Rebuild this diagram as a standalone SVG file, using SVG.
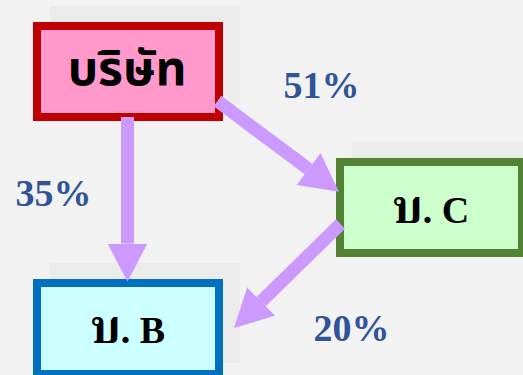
<svg xmlns="http://www.w3.org/2000/svg" width="523" height="375" viewBox="0 0 523 375">
  <style>
    .shadow { fill: #ebebeb; }
    .box { stroke-width: 8; }
    .conn { stroke: #cc99ff; stroke-width: 13; fill: none; marker-end: url(#head); }
    .pct { font-family: "Liberation Serif", "Times New Roman", serif; font-weight: bold; font-size: 38px; fill: #2f5597; text-anchor: middle; }
    .lbl { font-family: "Liberation Serif", "Noto Serif Thai", "Noto Sans Thai", "Tahoma", serif; font-weight: bold; font-size: 38px; fill: #000; text-anchor: middle; }
    .tb { font-size: 46px; }
    .thai { font-family: "Tahoma", "Noto Sans Thai", "Noto Sans Thai UI", "DejaVu Sans", sans-serif; font-weight: bold; font-size: 48px; fill: #000; text-anchor: middle; }
  </style>
  <defs>
    <marker id="head" markerUnits="userSpaceOnUse" markerWidth="38" markerHeight="40" viewBox="0 0 38 40" refX="0" refY="20" orient="auto">
      <path d="M0,0 L38,20 L0,40 z" fill="#cc99ff"/>
    </marker>
  </defs>
  <rect x="0" y="0" width="523" height="375" fill="#f2f2f2"/>

  <g id="node-company">
    <rect class="shadow" x="50" y="6" width="190" height="99"/>
    <rect class="box" x="37" y="26" width="182" height="91" fill="#ff99cc" stroke="#c00000"/>
    <text class="thai" x="127" y="85">บริษัท</text>
  </g>
  <g id="node-c">
    <rect class="shadow" x="352" y="142" width="190" height="99"/>
    <rect class="box" x="340" y="162" width="182" height="91" fill="#ccffcc" stroke="#548235"/>
    <text class="lbl" x="431" y="223"><tspan class="tb">บ</tspan>. C</text>
  </g>
  <g id="node-b">
    <rect class="shadow" x="50" y="263" width="190" height="100"/>
    <rect class="box" x="37" y="283" width="182" height="91" fill="#ccffff" stroke="#0070c0"/>
    <text class="lbl" x="128" y="343"><tspan class="tb">บ</tspan>. B</text>
  </g>

  <g id="connectors">
    <line class="conn" x1="127.5" y1="117" x2="127.5" y2="243.5"/>
    <line class="conn" x1="217.5" y1="101" x2="308.5" y2="169"/>
    <line class="conn" x1="340.5" y1="224" x2="261.2" y2="301.5"/>
  </g>

  <g id="labels">
    <text class="pct" x="321.5" y="98">51%</text>
    <text class="pct" x="53.5" y="205.5">35%</text>
    <text class="pct" x="351.5" y="340.5">20%</text>
  </g>
</svg>
